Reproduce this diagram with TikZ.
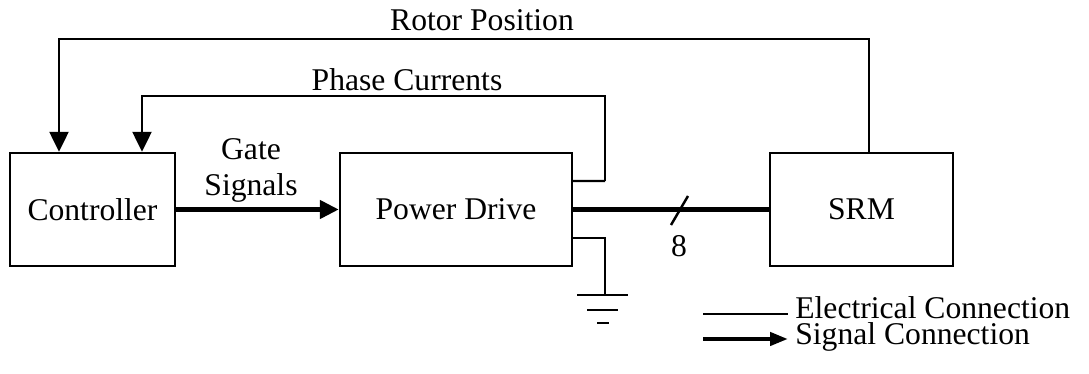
\documentclass[tikz,border=0pt]{standalone}
\usepackage{fontspec}
\setmainfont{Liberation Serif}
\usetikzlibrary{arrows.meta}

\tikzset{
  blk/.style={draw, line width=1.4pt, minimum height=2.26cm, inner sep=0pt},
  elec/.style={line width=1.4pt},
  sig/.style={line width=1.4pt, -{Triangle[length=0.4cm, width=0.38cm]}},
  bus/.style={line width=2.8pt}
}

\begin{document}
\begin{tikzpicture}[x=0.02cm, y=-0.02cm, font=\fontsize{18}{21}\selectfont]
\useasboundingbox (0,0) rectangle (1089,374);
% blocks
\node[blk, minimum width=3.3cm] (ctrl) at (92.5,209.5) {Controller};
\node[blk, minimum width=4.64cm] (pd) at (456,209.5) {Power Drive};
\node[blk, minimum width=3.66cm] (srm) at (861.5,209.5) {SRM};
% feedback paths
\coordinate (rp) at (59,39);
\coordinate (pc) at (142,96);
\draw[sig] ([xshift=0.15cm]srm.north) |- (rp) -- (rp |- ctrl.north);
\coordinate (pcout) at (605,181);
\draw[elec] ([yshift=0.57cm]pd.east) -- (pcout);
\draw[sig] (pcout) |- (pc) -- (pc |- ctrl.north);
\node[anchor=base] (rplabel) at (482,31) {Rotor Position};
\node[anchor=base] (pclabel) at (407,91) {Phase Currents};
% gate signals
\draw[sig, line width=2.6pt, -{Triangle[length=0.38cm, width=0.36cm]}] (ctrl.east) -- (pd.west);
\node[anchor=base] (gate) at (251,160) {Gate};
\node[anchor=base] (sigs) at (251,196) {Signals};
% phase bus
\draw[bus] (pd.east) -- (srm.west);
\draw[elec] (671,225) -- (688,196);
\node (eight) at (679,246) {8};
% ground
\coordinate (gnd) at (605,295);
\draw[elec] ([yshift=-0.57cm]pd.east) -| (gnd);
\draw[elec] (577,295) -- (628,295);
\draw[elec] (587,310) -- (618,310);
\draw[elec] (597,323) -- (609,323);
% legend
\draw[elec] (703,314) -- (788,314);
\draw[line width=2.4pt, -{Triangle[length=0.36cm, width=0.26cm]}] (703,339) -- (788,339);
\node[anchor=base west, inner sep=0pt] (leg1) at (795,318.5) {Electrical Connection};
\node[anchor=base west, inner sep=0pt] (leg2) at (795,344.5) {Signal Connection};
\end{tikzpicture}
\end{document}
